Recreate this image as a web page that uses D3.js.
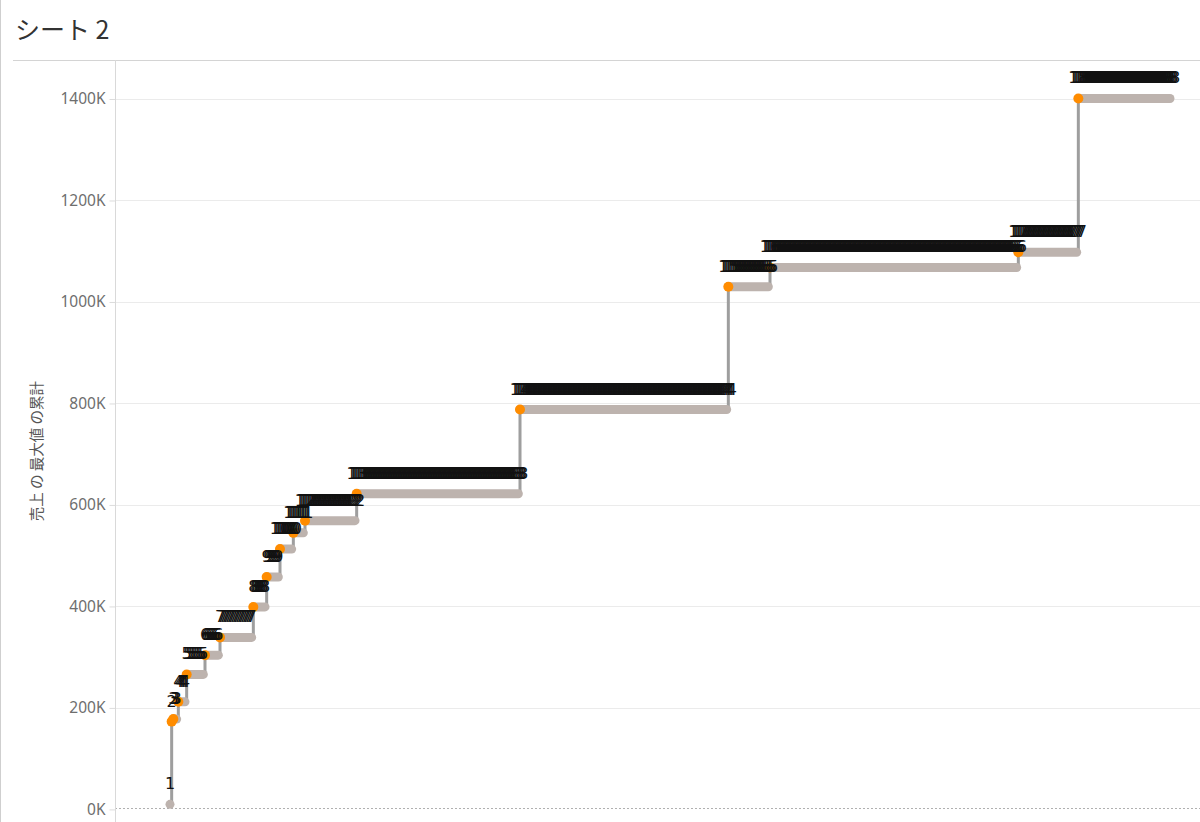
<!DOCTYPE html>
<html>
<head>
<meta charset="utf-8">
<script src="https://cdn.jsdelivr.net/npm/d3@7"></script>
<style>
  body { margin: 0; background: #fff; }
  svg { display: block; }
</style>
</head>
<body>
<script>
// running max steps: first row index of each step, value of the step, label
var stepStart = [0, 1, 2, 5, 10, 21, 30, 50, 58, 66, 74, 81, 112, 210, 335, 360, 509, 545];
var stepValue = [10000, 173000, 178000, 212000, 266000, 304000, 339000, 399000, 458000, 513000,
                 545000, 569000, 622000, 788000, 1030000, 1068000, 1098000, 1401000];
var stepLabel = ["1", "2", "3", "4", "5", "6", "7", "8", "9", "10",
                 "11", "12", "13", "14", "15", "16", "17", "18"];
var lastRow = 600;
var yTicks = [0, 200000, 400000, 600000, 800000, 1000000, 1200000, 1400000];

var width = 1200, height = 822;
var plot = { left: 115, top: 60, right: 1200, bottom: 822 };

var svg = d3.select("body").append("svg")
    .attr("width", width)
    .attr("height", height);

var x = d3.scaleLinear()
    .domain([0, lastRow])
    .range([170, 1170]);

var y = d3.scaleLinear()
    .domain([0, 1400000])
    .range([809.4, 99]);

// one record per row, each carrying the value of its step
var rows = [];
stepStart.forEach(function(s, i) {
    var end = i < stepStart.length - 1 ? stepStart[i + 1] - 1 : lastRow;
    for (var r = s; r <= end; r++) {
        rows.push({ row: r, value: stepValue[i], label: stepLabel[i] });
    }
});

var steps = stepStart.map(function(s, i) {
    return {
        start: s,
        end: i < stepStart.length - 1 ? stepStart[i + 1] - 1 : lastRow,
        value: stepValue[i],
        first: i === 0
    };
});

// frame
svg.append("line")
    .attr("x1", 0.5).attr("x2", 0.5)
    .attr("y1", 0).attr("y2", height)
    .attr("stroke", "#cfcfcf");

svg.append("text")
    .attr("x", 15)
    .attr("y", 39)
    .attr("font-family", "'Noto Sans CJK JP', 'Noto Sans', sans-serif")
    .attr("font-size", 25)
    .attr("fill", "#333")
    .text("シート 2");

svg.append("line")
    .attr("x1", 13).attr("x2", plot.right)
    .attr("y1", plot.top + 0.5).attr("y2", plot.top + 0.5)
    .attr("stroke", "#d4d4d4");

// gridlines
svg.append("g")
    .selectAll("line")
    .data(yTicks.filter(function(d) { return d > 0; }))
    .enter().append("line")
    .attr("x1", plot.left).attr("x2", plot.right)
    .attr("y1", function(d) { return Math.round(y(d)) + 0.5; })
    .attr("y2", function(d) { return Math.round(y(d)) + 0.5; })
    .attr("stroke", "#ebebeb");

svg.append("line")
    .attr("x1", plot.left).attr("x2", plot.right)
    .attr("y1", Math.round(y(0)) - 0.5).attr("y2", Math.round(y(0)) - 0.5)
    .attr("stroke", "#b0b0b0")
    .attr("stroke-dasharray", "2,2");

// y axis
var yAxis = d3.axisLeft(y)
    .tickValues(yTicks)
    .tickSize(6)
    .tickPadding(4)
    .tickFormat(function(d) { return (d / 1000) + "K"; });

var gy = svg.append("g")
    .attr("transform", "translate(" + (plot.left + 0.5) + ",0)")
    .call(yAxis);
gy.select(".domain").remove();
gy.selectAll(".tick line").attr("stroke", "#dcdcdc");
gy.selectAll(".tick text")
    .attr("font-family", "'Noto Sans', sans-serif")
    .attr("font-size", 15.5)
    .attr("fill", "#6e6e6e");

svg.append("line")
    .attr("x1", plot.left + 0.5).attr("x2", plot.left + 0.5)
    .attr("y1", plot.top).attr("y2", plot.bottom)
    .attr("stroke", "#d9d9d9");

svg.append("text")
    .attr("transform", "translate(42,451) rotate(-90)")
    .attr("text-anchor", "middle")
    .attr("font-family", "'Noto Sans CJK JP', sans-serif")
    .attr("font-size", 14.5)
    .attr("fill", "#555")
    .text("売上 の 最大値 の累計");

// step line (gray connectors)
var line = d3.line()
    .x(function(d) { return x(d.row); })
    .y(function(d) { return y(d.value); })
    .curve(d3.curveStepAfter);

var linePts = steps.map(function(d) { return { row: d.start, value: d.value }; });
linePts.push({ row: lastRow, value: stepValue[stepValue.length - 1] });

svg.append("path")
    .datum(linePts)
    .attr("d", line)
    .attr("fill", "none")
    .attr("stroke", "#9e9e9e")
    .attr("stroke-width", 3);

// flat parts of each step
svg.append("g")
    .selectAll("line")
    .data(steps)
    .enter().append("line")
    .attr("x1", function(d) { return x(d.start); })
    .attr("x2", function(d) { return x(d.end); })
    .attr("y1", function(d) { return y(d.value); })
    .attr("y2", function(d) { return y(d.value); })
    .attr("stroke", "#bdb3ae")
    .attr("stroke-width", 9)
    .attr("stroke-linecap", "round");

// points where the max changes
svg.append("g")
    .selectAll("circle")
    .data(steps.filter(function(d) { return !d.first; }))
    .enter().append("circle")
    .attr("cx", function(d) { return x(d.start); })
    .attr("cy", function(d) { return y(d.value); })
    .attr("r", 5)
    .attr("fill", "#ff8c00");

// one label per row
svg.append("g")
    .selectAll("text")
    .data(rows)
    .enter().append("text")
    .attr("x", function(d) { return x(d.row); })
    .attr("y", function(d) { return y(d.value) - 15; })
    .attr("text-anchor", "middle")
    .attr("font-family", "'DejaVu Sans', sans-serif")
    .attr("font-size", 16)
    .attr("fill", "#111")
    .text(function(d) { return d.label; });
</script>
</body>
</html>
